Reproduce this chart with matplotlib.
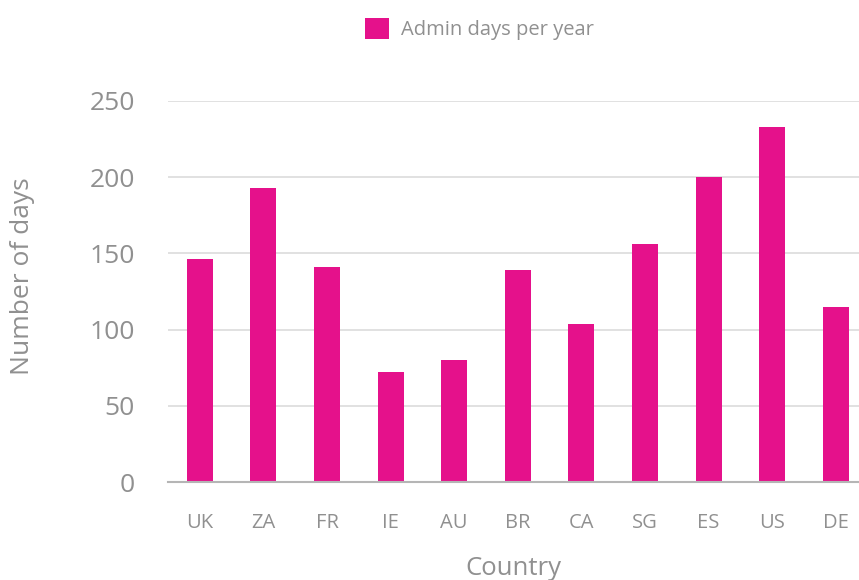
import matplotlib
matplotlib.use('Agg')
import matplotlib.pyplot as plt
import numpy as np

plt.rcParams['font.family'] = ['Open Sans', 'DejaVu Sans']

countries = ['UK', 'ZA', 'FR', 'IE', 'AU', 'BR', 'CA', 'SG', 'ES', 'US', 'DE']
admin_days = [146, 193, 141, 72, 80, 139, 104, 156, 200, 233, 115]

bar_color = '#e5118b'
text_color = '#909090'

fig = plt.figure(figsize=(8.59, 5.80), dpi=100)
ax = fig.add_axes([168 / 859, 98 / 580, 691 / 859, 381 / 580])

x_pos = np.arange(len(countries))
ax.bar(x_pos, admin_days, width=0.41, color=bar_color, label='Admin days per year', zorder=3)

ax.set_xlim(-0.5, -0.5 + 691 / 63.6)
ax.set_ylim(0, 250)
ax.set_yticks([0, 50, 100, 150, 200, 250])
ax.set_xticks(x_pos)
ax.set_xticklabels(countries)

ax.yaxis.grid(True, color='#dcdcdc', linewidth=1.2, zorder=0)
for side in ['top', 'right', 'left']:
    ax.spines[side].set_visible(False)
ax.spines['bottom'].set_color('#b5b5b5')
ax.spines['bottom'].set_linewidth(1.5)
ax.spines['bottom'].set_zorder(4)

ax.tick_params(axis='y', length=0, pad=24, labelsize=19, labelcolor=text_color)
ax.tick_params(axis='x', length=0, pad=22, labelsize=14.5, labelcolor=text_color)

ax.set_xlabel('Country', fontsize=18.5, color=text_color, labelpad=17)
ax.set_ylabel('Number of days', fontsize=19, color=text_color)
ax.yaxis.set_label_coords(-0.193, 0.54)

fig.legend(loc='center', bbox_to_anchor=(0.558, 1 - 29 / 580), frameon=False,
           fontsize=14.5, labelcolor=text_color, handlelength=1.2, handleheight=1.2,
           handletextpad=0.55)

plt.savefig('out.png', dpi=100)
